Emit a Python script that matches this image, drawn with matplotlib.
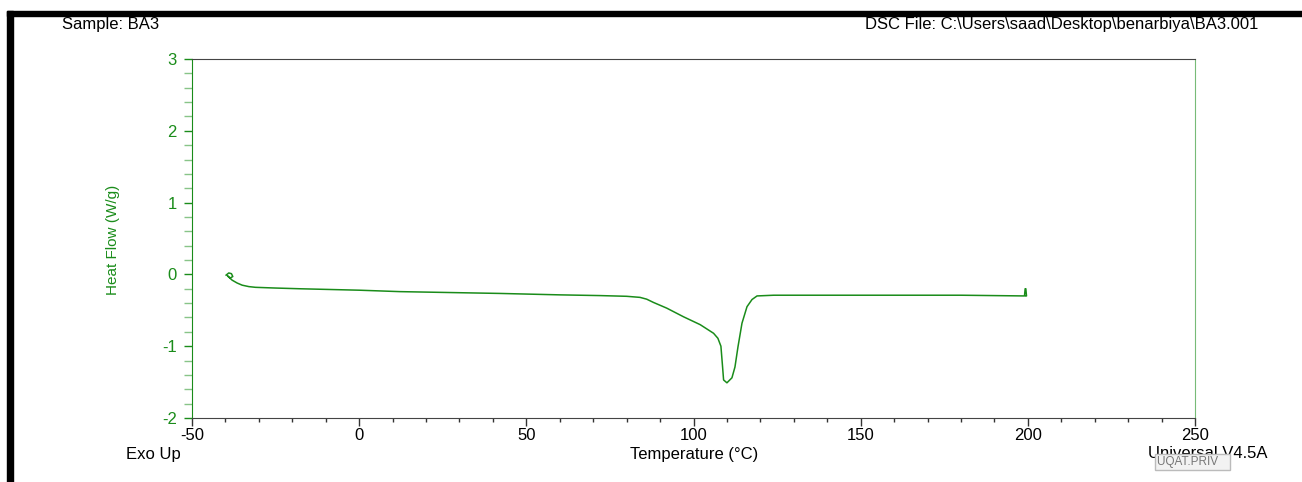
import numpy as np
import matplotlib.pyplot as plt
from matplotlib.patches import Rectangle
from matplotlib.ticker import MultipleLocator

plt.rcParams['font.family'] = ['Liberation Sans', 'DejaVu Sans']
plt.rcParams['axes.unicode_minus'] = False

# DSC trace (temperature in C, heat flow in W/g)
temp = [-39.8, -39.0, -38.2, -37.8, -38.6, -39.4, -38.0, -36.5, -35.0, -33.0,
        -31.0, -25.0, -17.7, 0.0, 12.2, 30.0, 42.0, 60.0, 72.0, 80.0, 84.0,
        86.0, 88.0, 92.0, 97.0, 102.0, 106.0, 107.3, 108.2, 108.7, 109.0,
        110.0, 111.5, 112.4, 113.3, 114.5, 116.0, 117.5, 119.0, 124.0, 150.0,
        180.0, 199.0, 199.2, 199.4, 199.6, 199.4]
heat_flow = [-0.01, 0.02, 0.01, -0.03, -0.05, -0.02, -0.08, -0.12, -0.15, -0.17,
             -0.18, -0.19, -0.20, -0.22, -0.24, -0.255, -0.265, -0.285, -0.295,
             -0.305, -0.32, -0.345, -0.39, -0.47, -0.59, -0.70, -0.82, -0.89,
             -1.00, -1.29, -1.47, -1.51, -1.44, -1.29, -1.01, -0.68, -0.45,
             -0.35, -0.30, -0.29, -0.29, -0.29, -0.30, -0.20, -0.20, -0.30,
             -0.30]

green = '#1a8c1a'
fs = 12

fig = plt.figure(figsize=(13.02, 4.82), dpi=100)
ax = fig.add_axes([192 / 1302, 64 / 482, 1003 / 1302, 359 / 482])

ax.plot(temp, heat_flow, color=green, lw=1.1)

ax.set_xlim(-50, 250)
ax.set_ylim(-2, 3)
ax.xaxis.set_major_locator(MultipleLocator(50))
ax.xaxis.set_minor_locator(MultipleLocator(10))
ax.yaxis.set_major_locator(MultipleLocator(1))
ax.yaxis.set_minor_locator(MultipleLocator(0.2))

ax.tick_params(axis='x', which='major', length=6, width=1, colors='#333333',
               labelcolor='black', labelsize=fs, pad=1)
ax.tick_params(axis='x', which='minor', length=3, width=1, colors='#333333')
ax.tick_params(axis='y', which='major', length=6, width=1, colors=green,
               labelcolor=green, labelsize=fs, pad=5)
ax.tick_params(axis='y', which='minor', length=6, width=1, colors='#88c488')

ax.spines['left'].set_color(green)
ax.spines['right'].set_color('#77bb77')
ax.spines['top'].set_color('#444444')
ax.spines['bottom'].set_color('#444444')

ax.set_ylabel('Heat Flow (W/g)', color=green, fontsize=11)
ax.yaxis.set_label_coords(-72 / 1003, 0.495)

fig.text(62 / 1302, 1 - 25 / 482, 'Sample: BA3', fontsize=fs, va='center')
fig.text(865 / 1302, 1 - 25 / 482,
         r'DSC File: C:\Users\saad\Desktop\benarbiya\BA3.001',
         fontsize=fs, va='center')
fig.text(126 / 1302, 1 - 454 / 482, 'Exo Up', fontsize=fs, va='center')
fig.text(694 / 1302, 1 - 454 / 482, 'Temperature (°C)', fontsize=fs,
         va='center', ha='center')
fig.text(1148 / 1302, 1 - 453 / 482, 'Universal V4.5A', fontsize=fs,
         va='center')
fig.text(1157 / 1302, 1 - 462 / 482, 'UQAT.PRIV   ', fontsize=8.5,
         va='center', color='#777777',
         bbox=dict(boxstyle='square,pad=0.2', fc='#f2f2f2', ec='#bbbbbb'))

# black frame on top and left
fig.patches.append(Rectangle((7 / 1302, 0), 6 / 1302, 1 - 11 / 482,
                             transform=fig.transFigure, color='black'))
fig.patches.append(Rectangle((7 / 1302, 1 - 16 / 482), 1 - 7 / 1302, 5 / 482,
                             transform=fig.transFigure, color='black'))

fig.savefig('out.png', dpi=100)
